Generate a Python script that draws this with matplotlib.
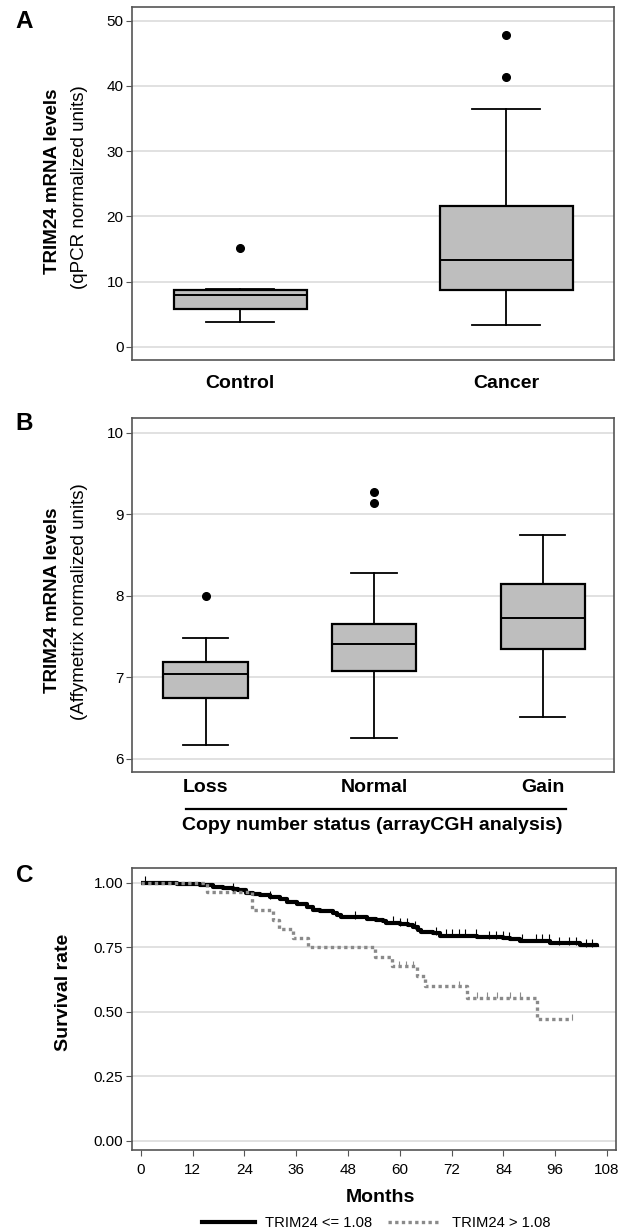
import numpy as np
import matplotlib
matplotlib.use("Agg")
import matplotlib.pyplot as plt
from matplotlib.lines import Line2D

plt.rcParams['font.family'] = ['Liberation Sans', 'DejaVu Sans']

# ---- Panel A: qPCR box plot summary ----
a_groups = ['Control', 'Cancer']
a_q1 = [5.8, 8.8]
a_med = [7.9, 13.4]
a_q3 = [8.7, 21.6]
a_lo = [3.9, 3.4]
a_hi = [8.85, 36.4]
a_fliers = [[15.1], [41.3, 47.8]]

# ---- Panel B: Affymetrix levels by copy number status ----
b_groups = ['Loss', 'Normal', 'Gain']
b_q1 = [6.74, 7.07, 7.35]
b_med = [7.04, 7.41, 7.73]
b_q3 = [7.19, 7.65, 8.14]
b_lo = [6.17, 6.25, 6.51]
b_hi = [7.48, 8.28, 8.75]
b_fliers = [[8.0], [9.14, 9.27], []]

# ---- Panel C: Kaplan-Meier curves ----
low_t = [0, 8.3, 13.7, 16.8, 19.1, 21.4, 22.6, 24.5, 26.1, 27.6, 29.9, 32.2,
         33.8, 36.1, 38.4, 39.9, 41.5, 44.6, 45.4, 46.5, 52.3, 54.6, 56.1,
         56.9, 60.0, 61.9, 63.1, 64.2, 65.0, 67.7, 69.3, 77.8, 83.9, 85.5,
         87.8, 94.7, 101.7, 105.6]
low_s = [1.0, 0.995, 0.99, 0.985, 0.98, 0.975, 0.97, 0.962, 0.956, 0.951,
         0.943, 0.936, 0.927, 0.916, 0.906, 0.896, 0.89, 0.884, 0.875, 0.866,
         0.86, 0.855, 0.85, 0.845, 0.84, 0.835, 0.829, 0.817, 0.811, 0.805,
         0.795, 0.79, 0.785, 0.78, 0.775, 0.767, 0.757, 0.75]
low_cens = [1.0, 21.4, 29.9, 49.6, 58.5, 60.0, 61.6, 63.5, 68.3, 70.6, 72.2,
            73.7, 75.2, 77.6, 80.7, 82.2, 83.8, 85.3, 88.4, 91.5, 93.0, 94.6,
            96.9, 99.2, 100.8, 103.1, 104.6]

high_t = [0, 15.3, 25.7, 30.7, 32.0, 35.3, 38.8, 54.2, 58.1, 63.9, 65.8,
          75.5, 91.7, 99.8]
high_s = [1.0, 0.965, 0.893, 0.857, 0.821, 0.786, 0.75, 0.714, 0.678, 0.64,
          0.598, 0.555, 0.47, 0.47]
high_cens = [59.9, 61.4, 63.0, 73.7, 77.8, 80.1, 82.4, 85.5, 87.8, 99.8]

months_ticks = list(range(0, 109, 12))
surv_ticks = [0.0, 0.25, 0.5, 0.75, 1.0]

W, H = 633, 1231
fig = plt.figure(figsize=(W / 100, H / 100), dpi=100)


def px_axes(left, top, right, bottom):
    return fig.add_axes([left / W, 1 - bottom / H, (right - left) / W, (bottom - top) / H])


def style_axes(ax):
    for sp in ax.spines.values():
        sp.set_color('#555555')
        sp.set_linewidth(1.2)
    ax.yaxis.grid(True, color='#dcdcdc', linewidth=1.2)
    ax.set_axisbelow(True)
    ax.tick_params(axis='y', length=4, width=0.8, color='#555555', pad=2, labelsize=11)


def boxes(ax, q1, med, q3, lo, hi, fliers, capw):
    stats = [dict(q1=a, med=m, q3=b, whislo=l, whishi=h, fliers=f)
             for a, m, b, l, h, f in zip(q1, med, q3, lo, hi, fliers)]
    ax.bxp(stats, positions=range(len(stats)), widths=0.5, capwidths=capw,
           patch_artist=True,
           boxprops=dict(facecolor='#bebebe', edgecolor='black', linewidth=1.6),
           medianprops=dict(color='black', linewidth=1.4),
           whiskerprops=dict(color='black', linewidth=1.3),
           capprops=dict(color='black', linewidth=1.3),
           flierprops=dict(marker='o', markerfacecolor='black', markeredgecolor='black',
                           markersize=5.5))


# Panel A
axA = px_axes(131.8, 7, 614.3, 360)
style_axes(axA)
boxes(axA, a_q1, a_med, a_q3, a_lo, a_hi, a_fliers, 0.254)
axA.set_xlim(-0.407, 1.407)
axA.set_ylim(-2.0, 52.1)
axA.set_yticks(range(0, 51, 10))
axA.set_xticks(range(len(a_groups)))
axA.set_xticklabels(a_groups, fontsize=14, fontweight='bold')
axA.tick_params(axis='x', length=0, pad=11)
fig.text(53 / W, 1 - 181 / H, 'TRIM24 mRNA levels', rotation=90, fontsize=13.5,
         fontweight='bold', ha='center', va='center')
fig.text(79 / W, 1 - 187 / H, '(qPCR normalized units)', rotation=90, fontsize=13.5,
         ha='center', va='center')
fig.text(24 / W, 1 - 22 / H, 'A', fontsize=17.5, fontweight='bold', ha='center', va='center')

# Panel B
axB = px_axes(131.8, 418, 614.3, 771.7)
style_axes(axB)
boxes(axB, b_q1, b_med, b_q3, b_lo, b_hi, b_fliers, 0.27)
axB.set_xlim(-0.438, 2.425)
axB.set_ylim(5.84, 10.18)
axB.set_yticks(range(6, 11))
axB.set_xticks(range(len(b_groups)))
axB.set_xticklabels(b_groups, fontsize=14, fontweight='bold')
axB.tick_params(axis='x', length=0, pad=5)
axB.plot([0.112, 0.899], [-0.106, -0.106], color='black', linewidth=1.6,
         transform=axB.transAxes, clip_on=False)
fig.text(372 / W, 1 - 826 / H, 'Copy number status (arrayCGH analysis)', fontsize=14,
         fontweight='bold', ha='center', va='center')
fig.text(53 / W, 1 - 600 / H, 'TRIM24 mRNA levels', rotation=90, fontsize=13.5,
         fontweight='bold', ha='center', va='center')
fig.text(79 / W, 1 - 602 / H, '(Affymetrix normalized units)', rotation=90, fontsize=13.5,
         ha='center', va='center')
fig.text(24 / W, 1 - 423 / H, 'B', fontsize=17.5, fontweight='bold', ha='center', va='center')

# Panel C
axC = px_axes(131.7, 868.3, 615.7, 1150)
style_axes(axC)
axC.step(low_t, low_s, where='post', color='black', linewidth=3.0, solid_capstyle='butt')
axC.step(high_t, high_s, where='post', color='#8a8a8a', linewidth=2.4,
         linestyle=(0, (1, 1)), dash_capstyle='butt')
low_cs = np.array(low_s)[np.searchsorted(low_t, low_cens, side='right') - 1]
high_cs = np.array(high_s)[np.searchsorted(high_t, high_cens, side='right') - 1]
axC.plot(low_cens, low_cs + 0.009, linestyle='none', marker='|', color='black',
         markersize=5.5, markeredgewidth=0.8)
axC.plot(high_cens, high_cs + 0.008, linestyle='none', marker='|', color='#8a8a8a',
         markersize=5, markeredgewidth=0.8)
axC.set_xlim(-2.08, 110)
axC.set_ylim(-0.036, 1.056)
axC.set_xticks(months_ticks)
axC.set_yticks(surv_ticks)
axC.set_yticklabels(['%.2f' % v for v in surv_ticks])
axC.tick_params(axis='x', length=4, width=0.8, color='#555555', pad=5, labelsize=11)
fig.text(380 / W, 1 - 1198 / H, 'Months', fontsize=14, fontweight='bold',
         ha='center', va='center')
fig.text(63 / W, 1 - 992 / H, 'Survival rate', rotation=90, fontsize=14,
         fontweight='bold', ha='center', va='center')
fig.text(25 / W, 1 - 876 / H, 'C', fontsize=17.5, fontweight='bold', ha='center', va='center')

handles = [Line2D([], [], color='black', linewidth=3.0),
           Line2D([], [], color='#8a8a8a', linewidth=2.4, linestyle=(0, (1, 1)))]
fig.legend(handles, ['TRIM24 <= 1.08', 'TRIM24 > 1.08'], loc='center',
           bbox_to_anchor=(376 / W, 1 - 1223 / H), ncol=2, frameon=False,
           fontsize=10.6, handlelength=3.6, handletextpad=0.7, columnspacing=1.1,
           borderpad=0, borderaxespad=0)

fig.savefig('out.png', dpi=100)
